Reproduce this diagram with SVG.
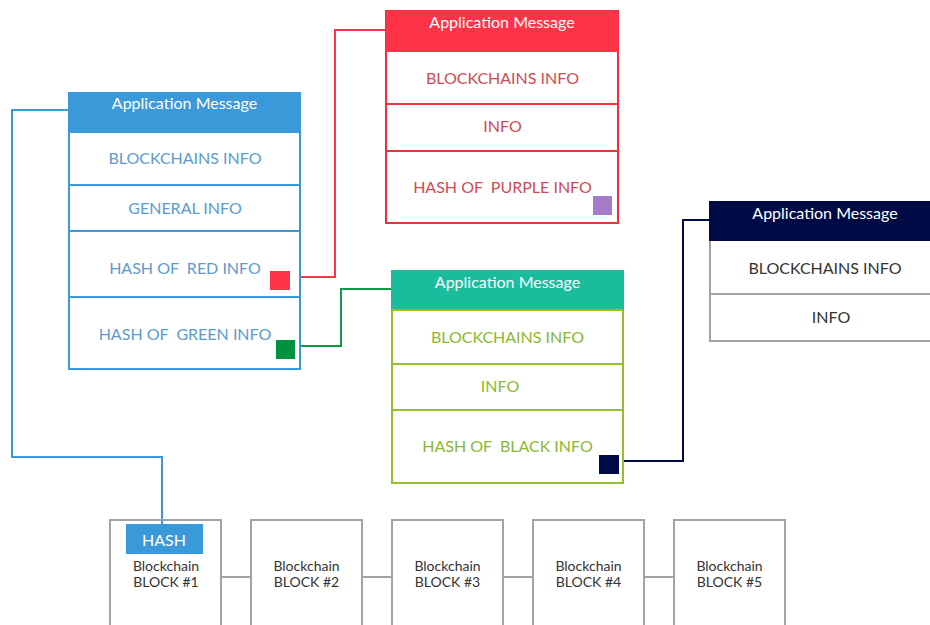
<svg xmlns="http://www.w3.org/2000/svg" width="930" height="625" viewBox="0 0 930 625" xml:space="preserve">
<style>
text{font-family:Lato,"Open Sans","Liberation Sans",sans-serif;text-anchor:middle;white-space:pre}
.hd{fill:#fff;font-size:16px}
.row{font-size:16px}
.blk{fill:none;stroke:#a3a3a3;stroke-width:2}
.bt{fill:#333;font-size:14px}
.ln{fill:none;stroke-width:2}
</style>
<rect width="930" height="625" fill="#fff"/>
<g id="connectors">
<polyline class="ln" stroke="#3a9ad9" points="69,110 12,110 12,457 162,457 162,524"/>
<polyline class="ln" stroke="#ff3348" points="290,277 335,277 335,30 386,30"/>
<polyline class="ln" stroke="#0e9a47" points="295,346 341,346 341,289 392,289"/>
<polyline class="ln" stroke="#000b45" points="619,461 683,461 683,220 709,220"/>
<g stroke="#a3a3a3" stroke-width="2">
<line x1="221" y1="577" x2="250" y2="577"/>
<line x1="362" y1="577" x2="391" y2="577"/>
<line x1="503" y1="577" x2="533" y2="577"/>
<line x1="644" y1="577" x2="674" y2="577"/>
</g>
</g>
<g id="msg-blue">
<rect x="69" y="93" width="231" height="276" fill="#fff" stroke="#3a9ad9" stroke-width="2"/>
<rect x="69" y="93" width="231" height="40" fill="#3a9ad9"/>
<g stroke="#3a9ad9" stroke-width="2"><line x1="69" y1="185" x2="300" y2="185"/><line x1="69" y1="231" x2="300" y2="231"/><line x1="69" y1="297" x2="300" y2="297"/></g>
<text class="hd" x="184.5" y="109">Application Message</text>
<g class="row" fill="#5b9bd0"><text x="185" y="164">BLOCKCHAINS INFO</text><text x="185" y="214">GENERAL INFO</text><text x="185" y="274">HASH OF  RED INFO</text><text x="185" y="340">HASH OF  GREEN INFO</text></g>
<rect x="270" y="271" width="20" height="19" fill="#ff3348"/>
<rect x="276" y="340" width="19" height="19" fill="#00923f"/>
</g>
<g id="msg-red">
<rect x="386" y="11" width="232" height="212" fill="#fff" stroke="#f0303e" stroke-width="2"/>
<rect x="386" y="11" width="232" height="41" fill="#ff3348"/>
<g stroke="#f0303e" stroke-width="2"><line x1="386" y1="104" x2="618" y2="104"/><line x1="386" y1="151" x2="618" y2="151"/></g>
<text class="hd" x="502" y="28">Application Message</text>
<g class="row" fill="#d04a55"><text x="502.5" y="84">BLOCKCHAINS INFO</text><text x="502.5" y="132">INFO</text><text x="502.5" y="193">HASH OF  PURPLE INFO</text></g>
<rect x="593" y="196" width="19" height="19" fill="#a67cc8"/>
</g>
<g id="msg-green">
<rect x="392" y="271" width="231" height="212" fill="#fff" stroke="#94c12a" stroke-width="2"/>
<rect x="391" y="270" width="233" height="40" fill="#1abc9c"/>
<g stroke="#94c12a" stroke-width="2"><line x1="392" y1="310" x2="623" y2="310"/><line x1="392" y1="364" x2="623" y2="364"/><line x1="392" y1="410" x2="623" y2="410"/></g>
<text class="hd" x="507.5" y="288">Application Message</text>
<g class="row" fill="#8ab82e"><text x="507.5" y="343">BLOCKCHAINS INFO</text><text x="500" y="392">INFO</text><text x="507.5" y="452">HASH OF  BLACK INFO</text></g>
<rect x="599" y="455" width="20" height="19" fill="#000b45"/>
</g>
<g id="msg-navy">
<rect x="710" y="202" width="230" height="139" fill="#fff" stroke="#a3a3a3" stroke-width="2"/>
<rect x="709" y="201" width="231" height="40" fill="#000b45"/>
<line x1="710" y1="294" x2="940" y2="294" stroke="#a3a3a3" stroke-width="2"/>
<text class="hd" x="825" y="219">Application Message</text>
<g class="row" fill="#333"><text x="825" y="274">BLOCKCHAINS INFO</text><text x="831" y="323">INFO</text></g>
</g>
<g id="block1"><rect class="blk" x="110" y="520" width="111" height="120"/><rect x="126" y="524" width="77" height="30" fill="#3a9ad9"/><text x="164" y="546" fill="#fff" font-size="16">HASH</text><text class="bt" x="166" y="571">Blockchain</text><text class="bt" x="166" y="587">BLOCK #1</text></g>
<g id="block2"><rect class="blk" x="251" y="520" width="111" height="120"/><text class="bt" x="306.5" y="571">Blockchain</text><text class="bt" x="306.5" y="587">BLOCK #2</text></g>
<g id="block3"><rect class="blk" x="392" y="520" width="111" height="120"/><text class="bt" x="447.5" y="571">Blockchain</text><text class="bt" x="447.5" y="587">BLOCK #3</text></g>
<g id="block4"><rect class="blk" x="533" y="520" width="111" height="120"/><text class="bt" x="588.5" y="571">Blockchain</text><text class="bt" x="588.5" y="587">BLOCK #4</text></g>
<g id="block5"><rect class="blk" x="674" y="520" width="111" height="120"/><text class="bt" x="729.5" y="571">Blockchain</text><text class="bt" x="729.5" y="587">BLOCK #5</text></g>
</svg>
